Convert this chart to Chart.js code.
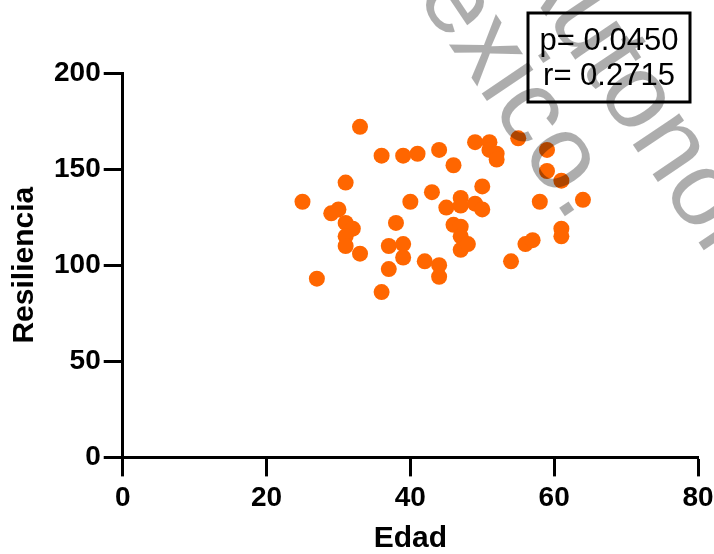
<!DOCTYPE html>
<html lang="es">
<head>
<meta charset="utf-8">
<title>Edad vs Resiliencia</title>
<script src="https://cdn.jsdelivr.net/npm/chart.js@4/dist/chart.umd.min.js"></script>
<style>
  html, body { margin: 0; padding: 0; background: #ffffff; }
  #wrap { width: 714px; height: 554px; }
</style>
</head>
<body>
<div id="wrap"><canvas id="chart" width="714" height="554"></canvas></div>
<script>
// Edad (años) de cada participante
const edad = [
  25, 27, 29, 30, 31, 31, 32, 31, 31, 33,
  33, 36, 36, 37, 37, 38, 39, 39, 39, 40,
  41, 42, 43, 44, 44, 44, 45, 46, 46, 47,
  47, 47, 47, 47, 48, 49, 49, 50, 50, 51,
  51, 52, 52, 54, 55, 56, 57, 58, 59, 59,
  61, 61, 61, 64
];
// Puntaje de resiliencia de cada participante
const resiliencia = [
  133, 93, 127, 129, 143, 122, 119, 115, 110, 106,
  172, 157, 86, 98, 110, 122, 157, 111, 104, 133,
  158, 102, 138, 160, 100, 94, 130, 152, 121, 120,
  135, 131, 115, 108, 111, 164, 132, 129, 141, 164,
  160, 158, 155, 102, 166, 111, 113, 133, 160, 149,
  144, 119, 115, 134
];
// Ticks de los ejes
const xTicks = [0, 20, 40, 60, 80];
const yTicks = [0, 50, 100, 150, 200];
// Estadísticos de la correlación
const statLines = ['p= 0.0450', 'r= 0.2715'];
// Marca de agua institucional
const watermarkLines = [
  { text: 'Mexico.', anchor: 5 },
  { text: 'Universidad Autonoma', anchor: 15 }
];

const points = edad.map((x, i) => ({ x: x, y: resiliencia[i] }));

const FONT = "'Liberation Sans', Arial, Helvetica, sans-serif";

const statBox = {
  id: 'statBox',
  afterDatasetsDraw(chart) {
    const { ctx, chartArea } = chart;
    const left = chartArea.right - 170;
    const right = chartArea.right - 8;
    const top = chartArea.top - 60;
    const bottom = chartArea.top + 29;
    ctx.save();
    ctx.fillStyle = '#ffffff';
    ctx.fillRect(left, top, right - left, bottom - top);
    ctx.lineWidth = 3;
    ctx.strokeStyle = '#000000';
    ctx.strokeRect(left, top, right - left, bottom - top);
    ctx.fillStyle = '#000000';
    ctx.font = '31px ' + FONT;
    ctx.textAlign = 'center';
    ctx.textBaseline = 'alphabetic';
    const cx = (left + right) / 2;
    ctx.fillText(statLines[0], cx, top + 37);
    ctx.fillText(statLines[1], cx, top + 72);
    ctx.restore();
  }
};

const watermark = {
  id: 'watermark',
  afterDraw(chart) {
    const { ctx } = chart;
    const size = 106;
    const angle = 56 * Math.PI / 180;
    const anchors = [[560, 160], [635, 99]];
    ctx.save();
    ctx.font = size + 'px ' + FONT;
    ctx.fillStyle = 'rgba(0,0,0,0.32)';
    ctx.textAlign = 'left';
    ctx.textBaseline = 'alphabetic';
    watermarkLines.forEach((line, i) => {
      const pre = ctx.measureText(line.text.slice(0, line.anchor)).width;
      const ch = ctx.measureText(line.text.charAt(line.anchor)).width;
      ctx.save();
      ctx.translate(anchors[i][0], anchors[i][1]);
      ctx.rotate(angle);
      ctx.fillText(line.text, -(pre + ch / 2), 0.26 * size);
      ctx.restore();
    });
    ctx.restore();
  }
};

new Chart(document.getElementById('chart'), {
  type: 'scatter',
  data: {
    datasets: [{
      data: points,
      backgroundColor: '#ff6600',
      borderColor: '#ff6600',
      borderWidth: 0,
      pointRadius: 8,
      pointHoverRadius: 8
    }]
  },
  options: {
    responsive: false,
    devicePixelRatio: 1,
    animation: false,
    layout: { padding: { left: 7, right: 0, top: 73, bottom: 0 } },
    plugins: {
      legend: { display: false },
      tooltip: { enabled: false }
    },
    scales: {
      x: {
        type: 'linear',
        min: 0,
        max: 80,
        afterBuildTicks(scale) { scale.ticks = xTicks.map(v => ({ value: v })); },
        // the last label ("80") may run to the canvas edge
        afterFit(scale) { scale.paddingRight = 16; },
        ticks: {
          color: '#000000',
          font: { family: FONT, size: 28, weight: 'bold' },
          padding: 5
        },
        grid: {
          drawOnChartArea: false,
          drawTicks: true,
          tickLength: 19,
          tickWidth: 3,
          tickColor: '#000000'
        },
        border: { display: true, color: '#000000', width: 3 },
        title: {
          display: true,
          text: 'Edad',
          color: '#000000',
          font: { family: FONT, size: 30, weight: 'bold', lineHeight: 1.0 },
          padding: { top: 4, bottom: 0 }
        }
      },
      y: {
        type: 'linear',
        min: 0,
        max: 200,
        afterBuildTicks(scale) { scale.ticks = yTicks.map(v => ({ value: v })); },
        ticks: {
          color: '#000000',
          font: { family: FONT, size: 28, weight: 'bold' },
          padding: 3
        },
        grid: {
          drawOnChartArea: false,
          drawTicks: true,
          tickLength: 19,
          tickWidth: 3,
          tickColor: '#000000'
        },
        border: { display: true, color: '#000000', width: 3 },
        title: {
          display: true,
          text: 'Resiliencia',
          color: '#000000',
          font: { family: FONT, size: 30, weight: 'bold' },
          padding: { top: 0, bottom: 8 }
        }
      }
    }
  },
  plugins: [statBox, watermark]
});
</script>
</body>
</html>
